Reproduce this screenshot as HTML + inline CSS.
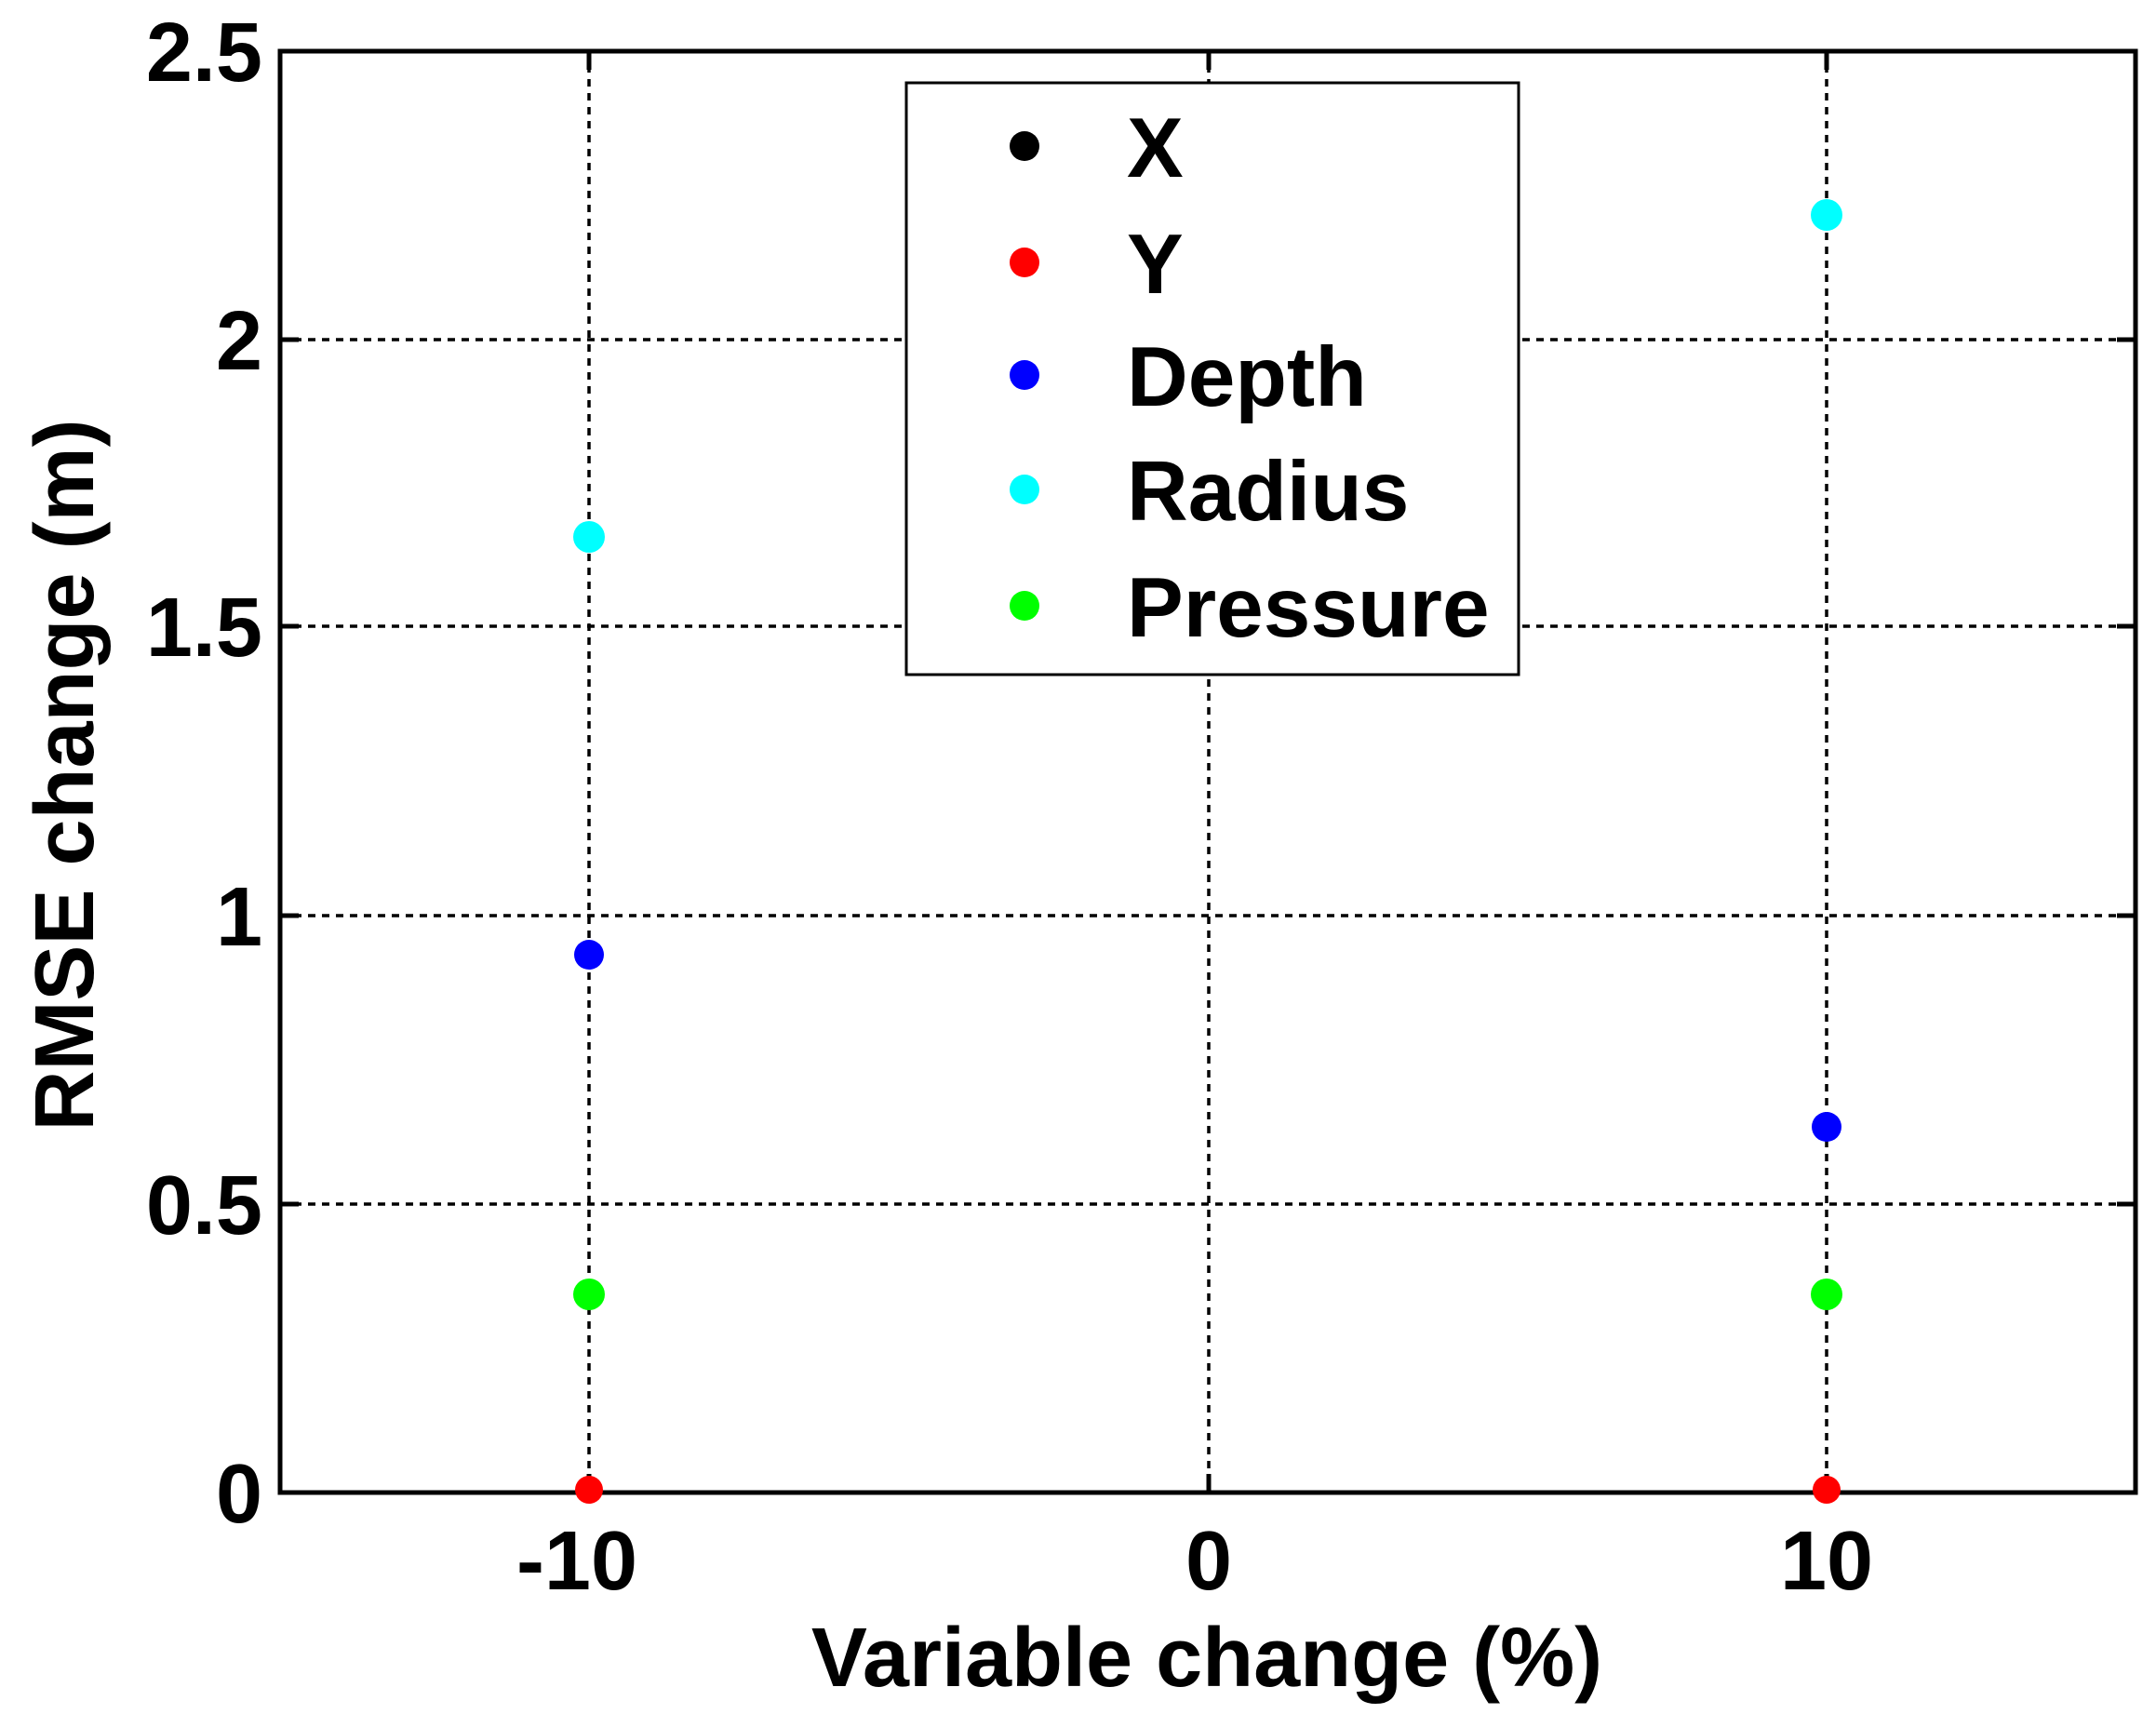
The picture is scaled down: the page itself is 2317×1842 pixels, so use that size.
<!DOCTYPE html>
<html><head><style>body{margin:0;background:#fff}</style></head><body>
<svg width="2317" height="1837" xmlns="http://www.w3.org/2000/svg" font-family="Liberation Sans, Arial, sans-serif" font-weight="bold">
<rect width="2317" height="1837" fill="#fff"/>
<g stroke="#000" stroke-width="3.5" stroke-dasharray="8,7">
<line x1="633" y1="55" x2="633" y2="1604"/>
<line x1="1299" y1="55" x2="1299" y2="1604"/>
<line x1="1963" y1="55" x2="1963" y2="1604"/>
<line x1="301" y1="365" x2="2295" y2="365"/>
<line x1="301" y1="673" x2="2295" y2="673"/>
<line x1="301" y1="984" x2="2295" y2="984"/>
<line x1="301" y1="1294" x2="2295" y2="1294"/>
</g>
<rect x="301" y="55" width="1994" height="1549" fill="none" stroke="#000" stroke-width="5"/>
<g stroke="#000" stroke-width="5">
<line x1="301" y1="365" x2="321" y2="365"/><line x1="2295" y1="365" x2="2275" y2="365"/>
<line x1="301" y1="673" x2="321" y2="673"/><line x1="2295" y1="673" x2="2275" y2="673"/>
<line x1="301" y1="984" x2="321" y2="984"/><line x1="2295" y1="984" x2="2275" y2="984"/>
<line x1="301" y1="1294" x2="321" y2="1294"/><line x1="2295" y1="1294" x2="2275" y2="1294"/>
<line x1="633" y1="1604" x2="633" y2="1584"/><line x1="1299" y1="1604" x2="1299" y2="1584"/><line x1="1963" y1="1604" x2="1963" y2="1584"/>
<line x1="633" y1="55" x2="633" y2="75"/><line x1="1299" y1="55" x2="1299" y2="75"/><line x1="1963" y1="55" x2="1963" y2="75"/>
</g>
<g font-size="90" text-anchor="end">
<text x="282" y="87">2.5</text>
<text x="282" y="397">2</text>
<text x="282" y="705">1.5</text>
<text x="282" y="1016">1</text>
<text x="282" y="1326">0.5</text>
<text x="282" y="1636">0</text>
</g>
<g font-size="90" text-anchor="middle">
<text x="620" y="1708">-10</text>
<text x="1299" y="1708">0</text>
<text x="1963" y="1708">10</text>
<text x="1297" y="1812">Variable change (%)</text>
<text transform="translate(100,833) rotate(-90)">RMSE change (m)</text>
</g>
<g>
<circle cx="633" cy="577" r="17" fill="#00ffff"/>
<circle cx="1963" cy="231" r="17" fill="#00ffff"/>
<circle cx="633" cy="1026" r="16" fill="#0000ff"/>
<circle cx="1963" cy="1211" r="16" fill="#0000ff"/>
<circle cx="633" cy="1391" r="17" fill="#00ff00"/>
<circle cx="1963" cy="1391" r="17" fill="#00ff00"/>
<circle cx="633" cy="1601" r="15" fill="#ff0000"/>
<circle cx="1963" cy="1601" r="15" fill="#ff0000"/>
</g>
<rect x="974" y="89" width="658" height="636" fill="#fff" stroke="#000" stroke-width="3"/>
<circle cx="1101" cy="157" r="16" fill="#000"/>
<circle cx="1101" cy="282" r="16" fill="#ff0000"/>
<circle cx="1101" cy="403" r="16" fill="#0000ff"/>
<circle cx="1101" cy="526" r="16" fill="#00ffff"/>
<circle cx="1101" cy="651" r="16" fill="#00ff00"/>
<g font-size="91">
<text x="1211" y="190">X</text>
<text x="1211" y="315">Y</text>
<text x="1211" y="436">Depth</text>
<text x="1211" y="559">Radius</text>
<text x="1211" y="684">Pressure</text>
</g>
</svg>
</body></html>
